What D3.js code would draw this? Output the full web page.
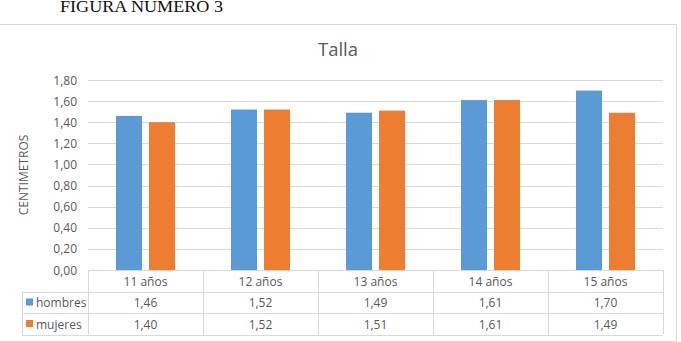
<!DOCTYPE html>
<html>
  <head>
    <meta charset="utf-8">
    <script src="https://d3js.org/d3.v7.min.js"></script>
    <style>
      body { margin: 0; background: white; font-family: "Open Sans", sans-serif; }
      svg { display: block; }
    </style>
  </head>
  <body>
    <div id="chart"></div>
    <script>
        // data
        var categories = ["11 años", "12 años", "13 años", "14 años", "15 años"]
        var series = ["hombres", "mujeres"]
        var hombres = [1.46, 1.52, 1.49, 1.61, 1.70]
        var mujeres = [1.40, 1.52, 1.51, 1.61, 1.49]
        var yTicks = [0, 0.2, 0.4, 0.6, 0.8, 1.0, 1.2, 1.4, 1.6, 1.8]

        var width = 681, height = 342
        var colors = {hombres: "#5b9bd5", mujeres: "#ed7d31"}
        var gridColor = "#d9d9d9", textColor = "#595959"
        var fs = 12
        var fmt = function(v){ return d3.format(".2f")(v).replace(".", ",") }

        var svg = d3.select("#chart").append("svg")
            .attr("width", width)
            .attr("height", height)

        // page caption above the chart
        svg.append("text")
            .attr("x", 60).attr("y", 11.5)
            .attr("font-family", "'Liberation Serif', serif")
            .attr("font-size", 16)
            .attr("textLength", 163)
            .attr("lengthAdjust", "spacingAndGlyphs")
            .attr("fill", "#111")
            .text("FIGURA NÚMERO 3")

        // chart frame
        svg.append("path")
            .attr("d", "M0,24.5 H676.5 V341.5 H0")
            .attr("fill", "none")
            .attr("stroke", "#d9d9d9")

        var plot = {left: 88, right: 663, top: 80, bottom: 270}

        var x0 = d3.scaleBand().domain(categories)
            .range([plot.left, plot.right])
            .paddingInner(0.487).paddingOuter(0.2435)
        var x1 = d3.scaleBand().domain(series)
            .range([0, x0.bandwidth()])
            .paddingInner(0.212)
        var y = d3.scaleLinear().domain([0, 1.8]).range([plot.bottom, plot.top])

        // gridlines
        svg.append("g").selectAll("line").data(yTicks.slice(1)).enter()
            .append("line")
            .attr("x1", plot.left).attr("x2", plot.right)
            .attr("y1", function(d){ return Math.round(y(d)) + 0.5 })
            .attr("y2", function(d){ return Math.round(y(d)) + 0.5 })
            .attr("stroke", gridColor)

        // y axis labels
        svg.append("g").selectAll("text").data(yTicks).enter()
            .append("text")
            .attr("x", 77)
            .attr("y", function(d){ return y(d) + 4.5 })
            .attr("text-anchor", "end")
            .attr("font-size", fs)
            .attr("fill", textColor)
            .text(fmt)

        svg.append("text")
            .attr("transform", "translate(28,175) rotate(-90)")
            .attr("text-anchor", "middle")
            .attr("font-size", fs)
            .attr("fill", textColor)
            .text("CENTIMETROS")

        svg.append("text")
            .attr("x", 338).attr("y", 56)
            .attr("text-anchor", "middle")
            .attr("font-size", 18.5)
            .attr("fill", textColor)
            .text("Talla")

        // bars
        var values = {hombres: hombres, mujeres: mujeres}
        var groups = svg.append("g").selectAll("g").data(categories).enter()
            .append("g")
            .attr("transform", function(d){ return "translate(" + x0(d) + ",0)" })
        groups.selectAll("rect")
            .data(function(d, i){ return series.map(function(s){ return {s: s, v: values[s][i]} }) })
            .enter().append("rect")
            .attr("x", function(d){ return x1(d.s) })
            .attr("width", x1.bandwidth())
            .attr("y", function(d){ return y(d.v) })
            .attr("height", function(d){ return y(0) - y(d.v) })
            .attr("fill", function(d){ return colors[d.s] })

        // data table
        var rowH = 21.5
        var step = x0.step()
        var tbl = svg.append("g").attr("stroke", gridColor).attr("fill", "none")
        var tableLeft = 22
        var rowsY = [plot.bottom, plot.bottom + rowH, plot.bottom + 2 * rowH, plot.bottom + 3 * rowH]
        rowsY.forEach(function(yy, i){
            tbl.append("line")
                .attr("x1", i === 0 ? plot.left : tableLeft).attr("x2", plot.right)
                .attr("y1", Math.round(yy) + 0.5).attr("y2", Math.round(yy) + 0.5)
        })
        tbl.append("line")
            .attr("x1", tableLeft + 0.5).attr("x2", tableLeft + 0.5)
            .attr("y1", rowsY[1]).attr("y2", rowsY[3])
        d3.range(categories.length + 1).forEach(function(i){
            var xx = Math.round(plot.left + i * step) + 0.5
            tbl.append("line")
                .attr("x1", xx).attr("x2", xx)
                .attr("y1", plot.bottom).attr("y2", rowsY[3])
        })

        svg.append("g").selectAll("text").data(categories).enter()
            .append("text")
            .attr("x", function(d){ return x0(d) + x0.bandwidth() / 2 })
            .attr("y", plot.bottom + 15.5)
            .attr("text-anchor", "middle")
            .attr("font-size", fs)
            .attr("fill", textColor)
            .text(function(d){ return d })

        series.forEach(function(s, r){
            var ry = rowsY[r + 1]
            svg.append("rect")
                .attr("x", 26).attr("y", ry + 7)
                .attr("width", 7).attr("height", 7)
                .attr("fill", colors[s])
            svg.append("text")
                .attr("x", 36).attr("y", ry + 15.5)
                .attr("font-size", fs)
                .attr("fill", textColor)
                .text(s)
            svg.append("g").selectAll("text").data(values[s]).enter()
                .append("text")
                .attr("x", function(d, i){ return x0(categories[i]) + x0.bandwidth() / 2 })
                .attr("y", ry + 15.5)
                .attr("text-anchor", "middle")
                .attr("font-size", fs)
                .attr("fill", textColor)
                .text(fmt)
        })
    </script>
  </body>
</html>
